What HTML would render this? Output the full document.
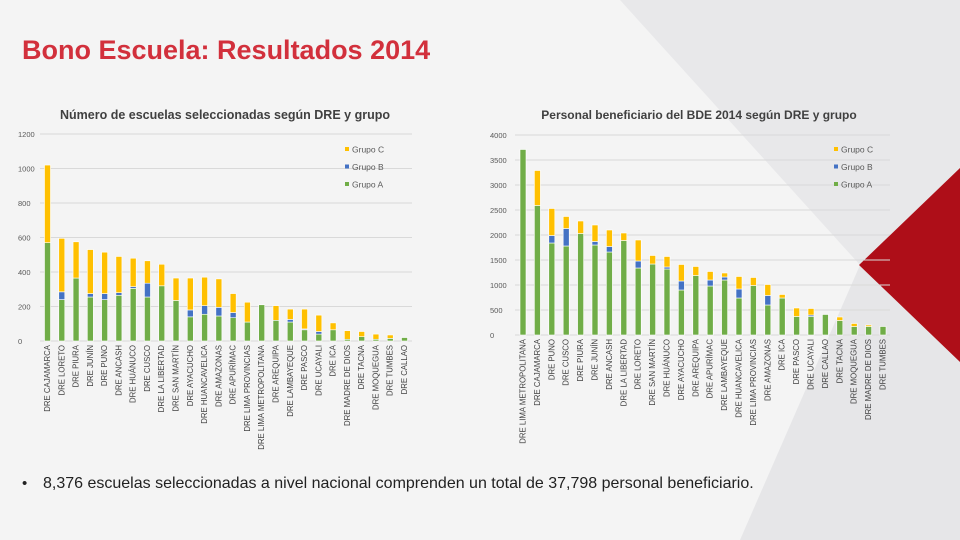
<!DOCTYPE html>
<html><head><meta charset="utf-8"><style>
html,body{margin:0;padding:0;width:960px;height:540px;overflow:hidden;background:#f4f4f4;font-family:"Liberation Sans",sans-serif}
svg{position:absolute;left:0;top:0}
</style></head><body>
<svg id="s" width="960" height="540">
<polygon points="960,0 620,0 860,265 960,170" fill="#e8e8ea"/>
<polygon points="860,265 740,540 960,540 960,362" fill="#e6e6e8"/>
<polygon points="960,168 859,265 960,362" fill="#ae0e18"/>
<text x="22" y="59" font-size="27" font-weight="bold" fill="#d2303c">Bono Escuela: Resultados 2014</text>
<text x="225" y="119" font-size="12.5" font-weight="bold" fill="#404040" text-anchor="middle">Número de escuelas seleccionadas según DRE y grupo</text>
<text x="699" y="119" font-size="12" font-weight="bold" fill="#404040" text-anchor="middle">Personal beneficiario del BDE 2014 según DRE y grupo</text>
<text x="22" y="488" font-size="15" fill="#222">•</text>
<text x="43" y="488" font-size="16" fill="#222">8,376 escuelas seleccionadas a nivel nacional comprenden un total de 37,798 personal beneficiario.</text>
<g id="c1"></g>
<g id="c2"></g>
</svg>
<script>
const cats1=["CAJAMARCA","LORETO","PIURA","JUNÍN","PUNO","ANCASH","HUÁNUCO","CUSCO","LA LIBERTAD","SAN MARTÍN","AYACUCHO","HUANCAVELICA","AMAZONAS","APURÍMAC","LIMA PROVINCIAS","LIMA METROPOLITANA","AREQUIPA","LAMBAYEQUE","PASCO","UCAYALI","ICA","MADRE DE DIOS","TACNA","MOQUEGUA","TUMBES","CALLAO"];
const a1=[570,240,365,255,240,265,305,255,320,235,140,155,145,135,110,210,120,110,65,40,65,10,25,10,15,20];
const b1=[0,45,0,20,35,15,10,80,0,0,40,50,50,30,0,0,0,15,5,15,0,0,0,0,0,0];
const c1=[450,310,210,255,240,210,165,130,125,130,185,165,165,110,115,0,85,60,115,95,40,50,30,30,20,0];
const ticks1=[0,200,400,600,800,1000,1200];
const cats2=["LIMA METROPOLITANA","CAJAMARCA","PUNO","CUSCO","PIURA","JUNÍN","ANCASH","LA LIBERTAD","LORETO","SAN MARTÍN","HUÁNUCO","AYACUCHO","AREQUIPA","APURÍMAC","LAMBAYEQUE","HUANCAVELICA","LIMA PROVINCIAS","AMAZONAS","ICA","PASCO","UCAYALI","CALLAO","TACNA","MOQUEGUA","MADRE DE DIOS","TUMBES"];
const a2=[3710,2590,1840,1780,2030,1800,1660,1890,1340,1420,1320,900,1190,980,1100,740,990,600,740,370,370,410,290,170,170,170];
const b2=[0,0,150,350,0,70,110,0,140,0,40,180,0,120,60,180,0,190,0,0,30,0,0,0,0,0];
const c2=[0,700,540,240,250,330,330,150,420,170,210,330,180,170,80,250,160,220,70,170,130,0,70,60,30,0];
const ticks2=[0,500,1000,1500,2000,2500,3000,3500,4000];
const COL={A:"#70ad47",B:"#4472c4",C:"#ffc000"};
const NS="http://www.w3.org/2000/svg";
function mk(p,tag,at){const e=document.createElementNS(NS,tag);for(const k in at)e.setAttribute(k,at[k]);p.appendChild(e);return e;}
function chart(g,cats,A,B,C,ticks,o){
  const max=ticks[ticks.length-1];
  const y=v=>o.y0-(v/max)*(o.y0-o.y1);
  const x=i=>o.x0+i*o.step;
  ticks.forEach(t=>{
    const l=mk(g,"line",{x1:o.gx0,x2:o.gx1,y1:y(t),y2:y(t),stroke:"#d9d9d9","stroke-width":1});
    
    
    const tx=mk(g,"text",{x:o.tx,y:y(t)+3,"font-size":7.5,fill:"#595959"});tx.textContent=t;
    
    
  });
  cats.forEach((c,i)=>{
    const cx=x(i);let base=0;
    [["A",A[i]],["B",B[i]],["C",C[i]]].forEach(([k,v])=>{
      if(v<=0)return;
      const r=mk(g,"rect",{x:cx-o.bw/2,y:y(base+v),width:o.bw,height:y(base)-y(base+v),fill:COL[k],stroke:"#fff","stroke-width":0.6});
      
      
      base+=v;
    });
    const t=mk(g,"text",{x:0,y:0,"font-size":7.8,fill:"#404040","text-anchor":"end",transform:`translate(${cx+2.5},${o.y0+4}) rotate(-90)`});
    t.textContent="DRE "+c;
    
    
  });
  [["C","Grupo C"],["B","Grupo B"],["A","Grupo A"]].forEach(([k,lab],j)=>{
    const yy=o.ly+j*17.5;
    const r=mk(g,"rect",{x:o.lx,y:yy-3,width:4,height:4,fill:COL[k]});
    
    
    const t=mk(g,"text",{x:o.lx+7,y:yy+2.5,"font-size":8.5,fill:"#595959"});t.textContent=lab;
    
    
  });
}
chart(document.getElementById("c1"),cats1,a1,b1,c1,ticks1,{x0:47.5,step:14.28,bw:6,y0:341,y1:134,gx0:40,gx1:412,tx:18,lx:345,ly:150});
chart(document.getElementById("c2"),cats2,a2,b2,c2,ticks2,{x0:523,step:14.4,bw:6,y0:335,y1:135,gx0:515,gx1:890,tx:490,lx:834,ly:150});
</script>
</body></html>
